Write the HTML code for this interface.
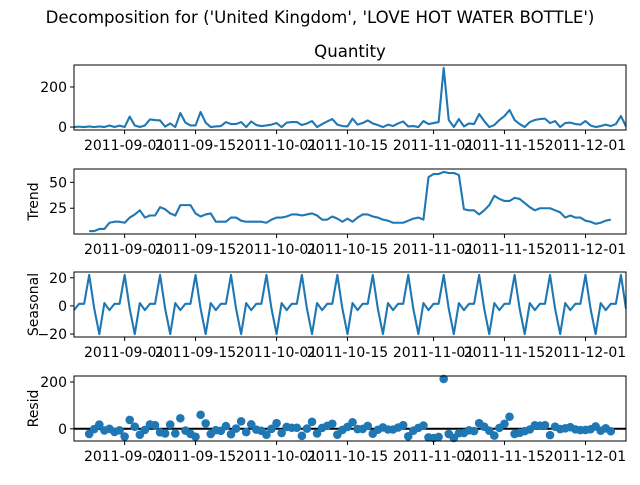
<!DOCTYPE html>
<html><head><meta charset="utf-8"><style>
html,body{margin:0;padding:0;background:#fff;}
svg text{font-family:"DejaVu Sans","Liberation Sans",sans-serif;}
</style></head><body>
<svg id="fig" width="640" height="480" viewBox="0 0 640 480" xmlns="http://www.w3.org/2000/svg">
<rect width="640" height="480" fill="#fff"/>
<text x="320" y="23" font-size="16.6" text-anchor="middle">Decomposition for ('United Kingdom', 'LOVE HOT WATER BOTTLE')</text>
</svg>
<script>
// data: daily from 2011-08-22 (Monday)
const startDate = "2011-08-22";
const observed = [0,2,0,3,0,3,0,8,0,7,0,52,8,0,8,38,35,33,2,18,0,70,22,8,8,75,22,0,3,5,25,15,15,25,0,28,10,5,8,12,20,0,22,25,25,10,18,30,0,15,28,40,12,5,3,42,12,20,33,18,10,0,12,5,18,28,3,5,0,30,15,20,25,295,35,0,40,3,18,15,65,30,0,10,35,55,85,35,15,0,25,35,40,42,20,30,0,20,22,15,12,30,8,0,5,12,5,15,55,3];
const trend = [null,null,null,3,3,5,5,11,12,12,11,16,19,23,16,18,18,26,24,20,18,28,28,28,20,17,19,20,12,12,12,16,16,13,12,12,12,12,11,14,16,16,17,19,19,18,19,20,18,14,14,17,15,12,15,12,16,19,19,17,16,14,13,11,11,11,13,15,16,14,55,58,58,60,59,59,57,24,23,23,19,23,28,37,34,32,32,35,34,30,26,23,25,25,25,23,21,16,18,16,16,13,12,10,11,13,14,null,null,null];
const seasonalWeek = [-3,1.5,1.5,22,-2,-20,2];
const xTickLabels = ["2011-09-01","2011-09-15","2011-10-01","2011-10-15","2011-11-01","2011-11-15","2011-12-01"];

const NS="http://www.w3.org/2000/svg";
const svg=document.getElementById('fig');
const L=74,R=626,H=65;
const tops=[65,169,272,376];
const DAY=86400000;
const t0=Date.parse(startDate+"T00:00:00Z");
const n=observed.length;
const dates=observed.map((_,i)=>t0+i*DAY);
const seasonal=observed.map((_,i)=>seasonalWeek[i%7]);
const resid=observed.map((v,i)=>trend[i]==null?null:v-trend[i]-seasonal[i]);
const xmin=dates[0],xmax=dates[n-1];
const xs=t=>L+(t-xmin)/(xmax-xmin)*(R-L);
function el(tag,attrs,parent){const e=document.createElementNS(NS,tag);for(const k in attrs)e.setAttribute(k,attrs[k]);(parent||svg).appendChild(e);return e;}

const panels=[
 {name:'observed',vals:observed,ticks:[0,200],label:null,type:'line'},
 {name:'trend',vals:trend,ticks:[25,50],label:'Trend',type:'line'},
 {name:'seasonal',vals:seasonal,ticks:[-20,0,20],label:'Seasonal',type:'line'},
 {name:'resid',vals:resid,ticks:[0,200],label:'Resid',type:'scatter'}
];
panels.forEach((p,pi)=>{
 const top=tops[pi],bot=top+H;
 const vv=p.vals.filter(v=>v!=null);
 let lo=Math.min(...vv),hi=Math.max(...vv);
 if(p.type==='scatter'){lo=Math.min(lo,0);hi=Math.max(hi,0);}
 const m=(hi-lo)*0.05;lo-=m;hi+=m;
 const ys=v=>bot-(v-lo)/(hi-lo)*H;
 const g=el('g',{});
 
 
 const clip=el('clipPath',{id:'c'+pi},g);
 el('rect',{x:L,y:top,width:R-L,height:H},clip);
 if(p.type==='line'){
  let d='',pen=false;
  p.vals.forEach((v,i)=>{if(v==null){pen=false;return;}d+=(pen?'L':'M')+xs(dates[i]).toFixed(2)+','+ys(v).toFixed(2);pen=true;});
  const path=el('path',{d:d,fill:'none',stroke:'#1f77b4','stroke-width':2.1,'stroke-linejoin':'round','clip-path':'url(#c'+pi+')'},g);
  
  
 } else {
  const zl=el('line',{x1:L,x2:R,y1:ys(0),y2:ys(0),stroke:'#000','stroke-width':2},g);
  
  
  p.vals.forEach((v,i)=>{if(v==null)return;
   const c=el('circle',{cx:xs(dates[i]),cy:ys(v),r:4.3,fill:'#1f77b4'},g);
   
   
  });
 }
 const fr=el('rect',{x:L,y:top,width:R-L,height:H,fill:'none',stroke:'#000','stroke-width':1},g);
 
 
 p.ticks.forEach(t=>{
  const y=ys(t);
  el('line',{x1:L-4,x2:L,y1:y,y2:y,stroke:'#000','stroke-width':1},g);
  const tx=el('text',{x:L-7,y:y+5,'font-size':14,'text-anchor':'end'},g);
  tx.textContent=t<0?'\u2212'+(-t):String(t);
  
  
 });
 xTickLabels.forEach(s=>{
  const x=xs(Date.parse(s+"T00:00:00Z"));
  el('line',{x1:x,x2:x,y1:bot,y2:bot+4,stroke:'#000','stroke-width':1},g);
  const tx=el('text',{x:x,y:bot+20,'font-size':14,'text-anchor':'middle'},g);
  tx.textContent=s;
  
  
 });
 if(p.label){
  const cy=top+H/2;
  const tx=el('text',{x:0,y:0,'font-size':14,'text-anchor':'middle',transform:'translate(38,'+cy+') rotate(-90)'},g);
  tx.textContent=p.label;
  
  
 } else {
  const tx=el('text',{x:(L+R)/2,y:57,'font-size':16.6,'text-anchor':'middle'},g);
  tx.textContent='Quantity';
  
  
 }
});
</script>
</body></html>
